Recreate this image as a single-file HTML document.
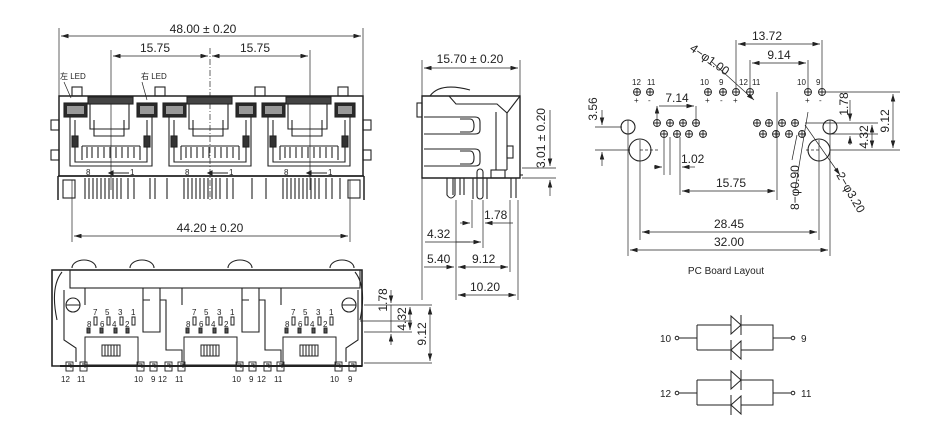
<!DOCTYPE html>
<html><head><meta charset="utf-8"><style>
html,body{margin:0;padding:0;background:#fff}
svg{display:block}
text{font-family:"Liberation Sans","Noto Sans CJK SC",sans-serif;fill:#222}
.t{font-size:12px}
.s{font-size:8px}
.m{font-size:10px}
</style></head><body>
<svg width="951" height="428" viewBox="0 0 951 428" xmlns="http://www.w3.org/2000/svg">
<defs>
<marker id="a" viewBox="0 0 10 6" refX="10" refY="3" markerWidth="9" markerHeight="4.5" orient="auto-start-reverse" markerUnits="userSpaceOnUse"><path d="M0,0L10,3L0,6z" fill="#222"/></marker>
<g id="port" stroke="#222" fill="none" stroke-width="1.1">
 <rect x="0" y="7" width="23" height="14" fill="#2a2a2a"/><rect x="3" y="10" width="17" height="8" fill="#999" stroke="none"/>
 <rect x="73" y="7" width="20" height="14" fill="#2a2a2a"/><rect x="76" y="10" width="14" height="8" fill="#999" stroke="none"/>
 <rect x="24" y="1" width="45" height="7" fill="#444"/>
 <path d="M6,21 V70 H88 V21"/><path d="M11,24 V66 H83 V24"/>
 <path d="M26,8 V33 H65 V8"/><path d="M30,24 V40 H60 V24"/>
 <path d="M18,50 H76 M18,50 V64 M76,50 V64"/>
 <path d="M23,51 V62 M28,51 V62 M34,51 V62 M40,51 V62 M46,51 V62 M52,51 V62 M58,51 V62 M64,51 V62 M70,51 V62"/>
 <rect x="8" y="40" width="6" height="11" fill="#333"/><rect x="80" y="40" width="6" height="11" fill="#333"/>
 <path d="M45,77 H65 M45,77 l4,-2 v4z" fill="#222"/>
</g>
<g id="bport" stroke="#222" fill="none" stroke-width="1">
 <rect x="0" y="75" width="53" height="28"/>
 <rect x="17" y="83" width="18" height="11"/>
 <path d="M20,83v11M23,83v11M26,83v11M29,83v11M32,83v11"/>
 <rect x="9" y="55" width="3" height="8"/><rect x="22" y="55" width="3" height="8"/><rect x="35" y="55" width="3" height="8"/><rect x="47" y="55" width="3" height="8"/>
 <rect x="2" y="66" width="3" height="5" fill="#555"/><rect x="15" y="66" width="3" height="5" fill="#555"/><rect x="29" y="66" width="3" height="5" fill="#555"/><rect x="41" y="66" width="3" height="5" fill="#555"/>
</g>
<g id="pad" stroke="#222" fill="none" stroke-width="0.9"><rect x="0" y="0" width="7" height="9"/><path d="M2,2h3v4"/></g>
<g id="ph" stroke="#222" fill="none" stroke-width="0.9"><circle r="3.5"/><path d="M-3.5,0h7M0,-3.5v7"/></g>
</defs>

<!-- ===== FRONT VIEW ===== -->
<g stroke="#222" stroke-width="0.7" fill="none">
 <path d="M59,28V98M363,28V98M111,50V190M310,50V190"/>
 <path d="M210,48V200" stroke-dasharray="6,2,1,2"/>
 <path d="M72,180V242M350,180V242"/>
 <path d="M61,36H361" marker-start="url(#a)" marker-end="url(#a)"/>
 <path d="M113,56H208" marker-start="url(#a)" marker-end="url(#a)"/>
 <path d="M212,56H308" marker-start="url(#a)" marker-end="url(#a)"/>
 <path d="M74,236H348" marker-start="url(#a)" marker-end="url(#a)"/>
 <path d="M64,82L71,98M142,82L147,100"/>
</g>
<text x="203" y="33" class="t" text-anchor="middle">48.00 ± 0.20</text>
<text x="155" y="52" class="t" text-anchor="middle">15.75</text>
<text x="255" y="52" class="t" text-anchor="middle">15.75</text>
<text x="210" y="232" class="t" text-anchor="middle">44.20 ± 0.20</text>
<text x="60" y="79" class="s">左 LED</text>
<text x="141" y="79" class="s">右 LED</text>

<g stroke="#222" fill="none" stroke-width="1.1">
 <rect x="59" y="96" width="304" height="80" stroke-width="1.5"/>
 <rect x="72" y="87" width="10" height="9"/><rect x="155" y="87" width="10" height="9"/><rect x="255" y="87" width="10" height="9"/><rect x="338" y="87" width="10" height="9"/>
 <rect x="51" y="120" width="8" height="10"/><rect x="51" y="150" width="8" height="10"/><rect x="363" y="120" width="8" height="10"/><rect x="363" y="150" width="8" height="10"/>
 <path d="M58,176H364M58,176V200M364,176V200" stroke-width="1.5"/>
 <rect x="63" y="180" width="12" height="18"/><rect x="348" y="180" width="12" height="18"/>
</g>
<use href="#port" x="64" y="96"/>
<use href="#port" x="163" y="96"/>
<use href="#port" x="262" y="96"/>
<text x="86" y="175" class="s">8</text><text x="130" y="175" class="s">1</text>
<text x="185" y="175" class="s">8</text><text x="229" y="175" class="s">1</text>
<text x="284" y="175" class="s">8</text><text x="328" y="175" class="s">1</text>
<g stroke="#222" stroke-width="1.1" fill="none">
 <path d="M85,178v21M89,178v21M93,178v21M97,178v21M101,178v21M105,178v21M109,178v21M113,178v21M117,178v21M121,178v21M128,178v21M134,178v21M150,178v21M155,178v21M167,178v21"/>
 <path d="M184,178v21M188,178v21M192,178v21M196,178v21M200,178v21M204,178v21M208,178v21M212,178v21M216,178v21M220,178v21M227,178v21M233,178v21M252,178v21M266,178v21"/>
 <path d="M283,178v21M287,178v21M291,178v21M295,178v21M299,178v21M303,178v21M307,178v21M311,178v21M315,178v21M319,178v21M326,178v21M332,178v21M340,178v21"/>
</g>

<!-- ===== BOTTOM VIEW ===== -->
<g stroke="#222" fill="none" stroke-width="1.1">
 <path d="M52,270H362V366H52Z" stroke-width="1.6"/>
 <rect x="70" y="270" width="290" height="18"/>
 <path d="M72,268a12,8 0 0 1 24,0M130,268a12,8 0 0 1 24,0M228,268a12,8 0 0 1 24,0M330,268a12,8 0 0 1 24,0"/>
 <path d="M62,272q-12,15 -5,48M355,272q12,15 5,48"/>
 <circle cx="73" cy="305" r="7"/><circle cx="349" cy="305" r="7"/>
 <path d="M66,305h14M342,305h14"/>
 <path d="M64,290V340L76,348V362M358,290V340L346,348V362"/>
 <path d="M143,288V332H160V288M143,300H150M160,300H166V350H182V362"/>
 <path d="M242,288V332H259V288M242,300H249M259,300H265V350H281V362"/>
 <path d="M85,288V305M182,288V305M281,288V305"/>
 <path d="M60,366H362" stroke-width="2"/>
</g>
<use href="#bport" x="85" y="262"/>
<use href="#bport" x="184" y="262"/>
<use href="#bport" x="283" y="262"/>
<use href="#pad" x="66" y="362"/><use href="#pad" x="80" y="362"/><use href="#pad" x="137" y="362"/><use href="#pad" x="150" y="362"/>
<use href="#pad" x="165" y="362"/><use href="#pad" x="178" y="362"/><use href="#pad" x="236" y="362"/><use href="#pad" x="249" y="362"/>
<use href="#pad" x="264" y="362"/><use href="#pad" x="277" y="362"/><use href="#pad" x="335" y="362"/><use href="#pad" x="349" y="362"/>
<g class="s">
<text x="93" y="315">7</text><text x="105" y="315">5</text><text x="118" y="315">3</text><text x="131" y="315">1</text>
<text x="87" y="327">8</text><text x="100" y="327">6</text><text x="112" y="327">4</text><text x="125" y="327">2</text>
<text x="192" y="315">7</text><text x="204" y="315">5</text><text x="217" y="315">3</text><text x="230" y="315">1</text>
<text x="186" y="327">8</text><text x="199" y="327">6</text><text x="211" y="327">4</text><text x="224" y="327">2</text>
<text x="291" y="315">7</text><text x="303" y="315">5</text><text x="316" y="315">3</text><text x="329" y="315">1</text>
<text x="285" y="327">8</text><text x="298" y="327">6</text><text x="310" y="327">4</text><text x="323" y="327">2</text>
<text x="61" y="382">12</text><text x="77" y="382">11</text><text x="134" y="382">10</text><text x="151" y="382">9</text>
<text x="158" y="382">12</text><text x="175" y="382">11</text><text x="232" y="382">10</text><text x="249" y="382">9</text>
<text x="257" y="382">12</text><text x="274" y="382">11</text><text x="330" y="382">10</text><text x="348" y="382">9</text>
</g>
<g stroke="#222" stroke-width="0.7" fill="none">
 <path d="M364,305H432M360,321H412M364,332H412M364,363H432"/>
 <path d="M391,290V303" marker-end="url(#a)"/><path d="M391,345V334" marker-end="url(#a)"/><path d="M391,305V332"/>
 <path d="M410,307V330" marker-start="url(#a)" marker-end="url(#a)"/>
 <path d="M430,307V361" marker-start="url(#a)" marker-end="url(#a)"/>
</g>
<text class="t" transform="translate(387,300) rotate(-90)" text-anchor="middle">1.78</text>
<text class="t" transform="translate(406,319) rotate(-90)" text-anchor="middle">4.32</text>
<text class="t" transform="translate(426,334) rotate(-90)" text-anchor="middle">9.12</text>

<!-- ===== SIDE VIEW ===== -->
<g stroke="#222" fill="none" stroke-width="1.1">
 <path d="M422,96H520V178H422Z" stroke-width="1.4"/>
 <rect x="417" y="103" width="5" height="14"/>
 <path d="M430,96q10,-14 40,-6"/>
 <path d="M449,96L456,104H497L507,113V170"/>
 <path d="M507,113L520,96"/>
 <path d="M496,112V170M496,170H507"/>
 <path d="M424,117H475Q480,117 480,122V130Q480,134 475,134H424"/>
 <path d="M424,149H475Q480,149 480,154V162Q480,166 475,166H424"/>
 <path d="M460,119H470Q474,119 474,126Q474,132 470,132H460"/>
 <path d="M460,151H470Q474,151 474,158Q474,164 470,164H460"/>
 <rect x="507" y="146" width="6" height="12"/>
 <rect x="491" y="170" width="14" height="8"/>
 <path d="M447,178V195Q451,201 455,195V178M453,178V195M460,178V195M464,178V195"/>
 <rect x="477" y="169" width="6" height="30" rx="3"/>
 <path d="M473,178V199M487,178V199M511,178V198M516,178V198"/>
 <path d="M520,175h3"/>
</g>
<g stroke="#222" stroke-width="0.7" fill="none">
 <path d="M422,60V300M520,60V96M456,200V300M472,200V228M483,200V248M510,200V272M518,200V300"/>
 <path d="M424,68H518" marker-start="url(#a)" marker-end="url(#a)"/>
 <path d="M522,178H556M522,168H556"/>
 <path d="M550,110V166" marker-end="url(#a)"/><path d="M550,196V180" marker-end="url(#a)"/>
 <path d="M460,223H470" marker-end="url(#a)"/><path d="M513,223H485" marker-end="url(#a)"/>
 <path d="M425,242H481" marker-end="url(#a)"/><path d="M456,242H470"/>
 <path d="M424,267H454" marker-end="url(#a)"/><path d="M458,267H508" marker-start="url(#a)" marker-end="url(#a)"/>
 <path d="M458,295H516" marker-start="url(#a)" marker-end="url(#a)"/>
</g>
<text x="470" y="63" class="t" text-anchor="middle">15.70 ± 0.20</text>
<text class="t" transform="translate(545,138) rotate(-90)" text-anchor="middle">3.01 ± 0.20</text>
<text x="484" y="219" class="t">1.78</text>
<text x="427" y="238" class="t">4.32</text>
<text x="427" y="263" class="t">5.40</text>
<text x="472" y="263" class="t">9.12</text>
<text x="470" y="291" class="t">10.20</text>

<!-- ===== PCB LAYOUT ===== -->
<g class="s">
<text x="632" y="85">12</text><text x="647" y="85">11</text>
<text x="700" y="85">10</text><text x="719" y="85">9</text><text x="739" y="85">12</text><text x="752" y="85">11</text>
<text x="797" y="85">10</text><text x="816" y="85">9</text>
<text x="634" y="103">+</text><text x="648" y="103">-</text><text x="705" y="103">+</text><text x="720" y="103">-</text><text x="733" y="103">+</text>
<text x="805" y="103">+</text><text x="819" y="103">-</text>
</g>
<use href="#ph" x="637" y="92"/><use href="#ph" x="650" y="92"/>
<use href="#ph" x="708" y="92"/><use href="#ph" x="723" y="92"/><use href="#ph" x="736" y="92"/><use href="#ph" x="750" y="92"/>
<use href="#ph" x="808" y="92"/><use href="#ph" x="822" y="92"/>
<use href="#ph" x="657" y="123"/><use href="#ph" x="670" y="123"/><use href="#ph" x="683" y="123"/><use href="#ph" x="696" y="123"/>
<use href="#ph" x="757" y="123"/><use href="#ph" x="769" y="123"/><use href="#ph" x="782" y="123"/><use href="#ph" x="795" y="123"/>
<use href="#ph" x="664" y="134"/><use href="#ph" x="677" y="134"/><use href="#ph" x="689" y="134"/><use href="#ph" x="703" y="134"/>
<use href="#ph" x="763" y="134"/><use href="#ph" x="776" y="134"/><use href="#ph" x="789" y="134"/><use href="#ph" x="802" y="134"/>
<g stroke="#222" fill="none" stroke-width="1.1">
 <circle cx="628" cy="127" r="7"/><circle cx="830" cy="127" r="7"/>
 <circle cx="640" cy="150" r="11"/><circle cx="819" cy="150" r="11"/>
</g>
<g stroke="#222" stroke-width="0.7" fill="none">
 <path d="M640,140V240M628,120V256M830,120V256M819,140V240M777,92V200" />
 <path d="M640,150h20M819,150h-14" stroke-dasharray="3,2"/>
 <path d="M736,40V90M822,40V88M750,60V88M808,60V88"/>
 <path d="M738,44H820" marker-start="url(#a)" marker-end="url(#a)"/>
 <path d="M752,63H806" marker-start="url(#a)" marker-end="url(#a)"/>
 <path d="M657,106V120M696,106V120M659,106H694" marker-start="url(#a)" marker-end="url(#a)"/>
 <path d="M595,127H622M595,150H630M602,110V125" marker-end="url(#a)"/><path d="M602,166V152" marker-end="url(#a)"/>
 <path d="M664,137V175M670,137V175M680,137V195"/>
 <path d="M654,167H662" marker-end="url(#a)"/><path d="M695,167H682" marker-end="url(#a)"/>
 <path d="M682,191H775" marker-start="url(#a)" marker-end="url(#a)"/>
 <path d="M642,232H817" marker-start="url(#a)" marker-end="url(#a)"/>
 <path d="M630,250H828" marker-start="url(#a)" marker-end="url(#a)"/>
 <path d="M712,62L754,100" marker-end="url(#a)"/>
 <path d="M826,92H900M805,123H878M830,134H878M830,150H900"/>
 <path d="M850,100V121" marker-end="url(#a)"/><path d="M850,145V136" marker-end="url(#a)"/>
 <path d="M872,125V148" marker-start="url(#a)" marker-end="url(#a)"/>
 <path d="M893,94V148" marker-start="url(#a)" marker-end="url(#a)"/>
 <path d="M808,112L795,190M797,135L792,160" />
 <path d="M805,125L840,175" marker-end="url(#a)"/>
</g>
<text x="767" y="40" class="t" text-anchor="middle">13.72</text>
<text x="779" y="59" class="t" text-anchor="middle">9.14</text>
<text x="677" y="102" class="t" text-anchor="middle">7.14</text>
<text x="681" y="163" class="t">1.02</text>
<text x="731" y="187" class="t" text-anchor="middle">15.75</text>
<text x="729" y="228" class="t" text-anchor="middle">28.45</text>
<text x="729" y="246" class="t" text-anchor="middle">32.00</text>
<text x="726" y="274" class="m" text-anchor="middle">PC Board Layout</text>
<text class="t" transform="translate(597,109) rotate(-90)" text-anchor="middle">3.56</text>
<text class="t" transform="translate(689,50) rotate(35)">4−φ1.00</text>
<text class="t" transform="translate(799,210) rotate(-90)">8−φ0.90</text>
<text class="t" transform="translate(836,175) rotate(60)">2−φ3.20</text>
<text class="t" transform="translate(848,104) rotate(-90)" text-anchor="middle">1.78</text>
<text class="t" transform="translate(868,137) rotate(-90)" text-anchor="middle">4.32</text>
<text class="t" transform="translate(889,121) rotate(-90)" text-anchor="middle">9.12</text>

<!-- ===== DIODES ===== -->
<g stroke="#222" stroke-width="1" fill="none">
 <path d="M679,338H697M697,325V350M697,325H773V350H697M773,338H791"/>
 <circle cx="677" cy="338" r="1.8"/><circle cx="793" cy="338" r="1.8"/>
 <path d="M731,316L741,325L731,334Z" fill="#fff"/><path d="M741,315V335"/>
 <path d="M741,341L731,350L741,359Z" fill="#fff"/><path d="M731,340V360"/>
 <path d="M679,393H697M697,380V405M697,380H773V405H697M773,393H791"/>
 <circle cx="677" cy="393" r="1.8"/><circle cx="793" cy="393" r="1.8"/>
 <path d="M731,371L741,380L731,389Z" fill="#fff"/><path d="M741,370V390"/>
 <path d="M741,396L731,405L741,414Z" fill="#fff"/><path d="M731,395V415"/>
</g>
<text x="660" y="342" class="m">10</text><text x="801" y="342" class="m">9</text>
<text x="660" y="397" class="m">12</text><text x="801" y="397" class="m">11</text>
</svg>
</body></html>
